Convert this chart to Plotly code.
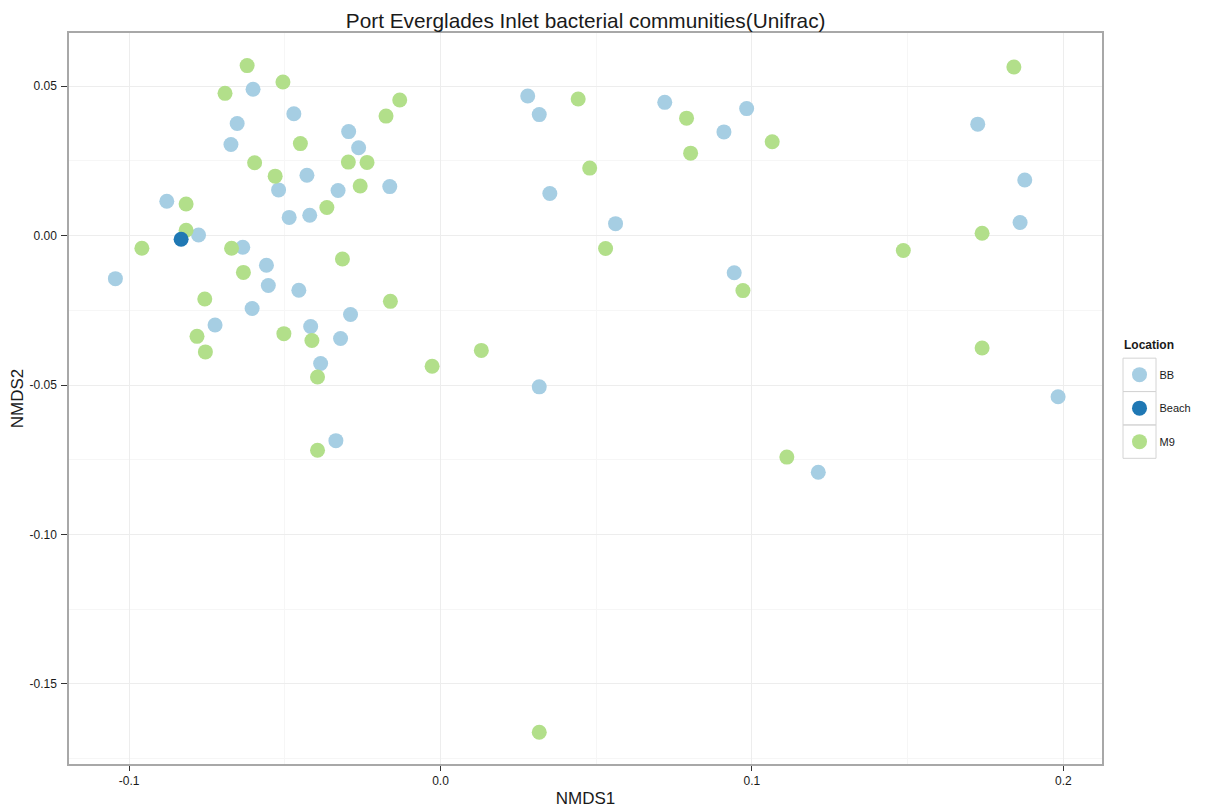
import plotly.graph_objects as go

# ---- data ----
bb_x = [-0.0602, -0.0471, -0.0653, -0.0295, -0.0673, -0.0263, -0.0429, -0.0520, -0.0329, -0.0163,
        -0.0879, -0.0486, -0.0420, -0.0777, -0.0635, -0.0559, -0.1044, -0.0553, -0.0455, -0.0605,
        -0.0289, -0.0724, -0.0417, -0.0321, -0.0385, -0.0336, 0.0280, 0.0317, 0.0720, 0.0983,
        0.0910, 0.0351, 0.0562, 0.0943, 0.0317, 0.1213, 0.1725, 0.1876, 0.1861, 0.1983]
bb_y = [0.0490, 0.0408, 0.0375, 0.0348, 0.0305, 0.0294, 0.0202, 0.0153, 0.0151, 0.0164,
        0.0115, 0.0061, 0.0068, 0.0002, -0.0039, -0.0099, -0.0144, -0.0167, -0.0183, -0.0244,
        -0.0264, -0.0299, -0.0304, -0.0344, -0.0428, -0.0686, 0.0467, 0.0405, 0.0446, 0.0425,
        0.0347, 0.0141, 0.0040, -0.0124, -0.0506, -0.0792, 0.0373, 0.0186, 0.0044, -0.0539]

beach_x = [-0.0833]
beach_y = [-0.0012]

m9_x = [-0.0621, -0.0506, -0.0692, -0.0131, -0.0175, -0.0450, -0.0597, -0.0296, -0.0236, -0.0531,
        -0.0258, -0.0817, -0.0365, -0.0817, -0.0959, -0.0671, -0.0315, -0.0633, -0.0757, -0.0161,
        -0.0782, -0.0503, -0.0413, -0.0755, -0.0395, -0.0027, -0.0395, 0.0442, 0.0790, 0.1065,
        0.0803, 0.0479, 0.0530, 0.0971, 0.0131, 0.1112, 0.1841, 0.1739, 0.1486, 0.1739, 0.0317]
m9_y = [0.0569, 0.0514, 0.0476, 0.0454, 0.0400, 0.0308, 0.0244, 0.0246, 0.0245, 0.0199,
        0.0166, 0.0106, 0.0094, 0.0018, -0.0042, -0.0042, -0.0078, -0.0123, -0.0212, -0.0220,
        -0.0337, -0.0328, -0.0351, -0.0389, -0.0473, -0.0437, -0.0718, 0.0457, 0.0393, 0.0314,
        0.0276, 0.0226, -0.0043, -0.0184, -0.0384, -0.0741, 0.0564, 0.0008, -0.0050, -0.0376, -0.1662]

x_tickvals = [-0.1, 0.0, 0.1, 0.2]
x_ticktext = ["-0.1", "0.0", "0.1", "0.2"]
y_tickvals = [0.05, 0.0, -0.05, -0.10, -0.15]
y_ticktext = ["0.05", "0.00", "-0.05", "-0.10", "-0.15"]

FONT = "Liberation Sans, Arial, Helvetica, sans-serif"
MS = 15
TXT = "#1a1a1a"

fig = go.Figure()
fig.add_trace(go.Scatter(x=bb_x, y=bb_y, mode="markers", name="BB", legendgroup="BB", legendrank=1,
                         marker=dict(color="#A6CEE3", size=MS, line=dict(width=0))))
fig.add_trace(go.Scatter(x=m9_x, y=m9_y, mode="markers", name="M9", legendgroup="M9", legendrank=3,
                         marker=dict(color="#B2DF8A", size=MS, line=dict(width=0))))
fig.add_trace(go.Scatter(x=beach_x, y=beach_y, mode="markers", name="Beach", legendgroup="Beach", legendrank=2,
                         marker=dict(color="#1F78B4", size=MS, line=dict(width=0))))

# page body has an 8px margin; work in page pixels and convert
OFF = 8
W, H = 1199, 801
P_LEFT, P_RIGHT, P_TOP, P_BOTTOM = 69.3, 1102, 32.7, 764  # panel edges in page px
L = P_LEFT - OFF
T = P_TOP - OFF
R = W - (P_RIGHT - OFF)
B = H - (P_BOTTOM - OFF)
pw = W - L - R
ph = H - T - B


def pxx(page_x):
    return (page_x - OFF - L) / pw


def pxy(page_y):
    return (H - B - (page_y - OFF)) / ph


# legend key boxes (ggplot-style)
box_left, box_right = 1123, 1156
box_tops = [358, 391.4, 424.8]
box_h = 33.4
shapes = []
for t in box_tops:
    shapes.append(dict(type="rect", xref="paper", yref="paper",
                       x0=pxx(box_left), x1=pxx(box_right),
                       y0=pxy(t + box_h), y1=pxy(t),
                       line=dict(color="#D4D4D4", width=1), fillcolor="rgba(0,0,0,0)", layer="below"))

annotations = [
    dict(text="<b>Location</b>", xref="paper", yref="paper", x=pxx(1122), y=pxy(345),
         xanchor="left", yanchor="middle", showarrow=False, font=dict(size=12, color=TXT)),
]

fig.update_layout(
    width=W, height=H,
    margin=dict(l=L, r=R, t=T, b=B, autoexpand=False),
    paper_bgcolor="white", plot_bgcolor="white",
    font=dict(family=FONT, color=TXT),
    title=dict(text="Port Everglades Inlet bacterial communities(Unifrac)",
               x=(L + pw / 2) / W, xanchor="center", y=1 - (20.5 - OFF) / H, yanchor="middle",
               font=dict(size=20.8, color=TXT)),
    showlegend=True,
    legend=dict(
        x=pxx(1119.5), xanchor="left",
        y=pxy(360), yanchor="top",
        font=dict(size=11, color=TXT),
        tracegroupgap=14.5,
        bgcolor="rgba(0,0,0,0)",
        itemclick=False,
    ),
    shapes=shapes,
    annotations=annotations,
    xaxis=dict(
        range=[-0.1193, 0.2124], tickvals=x_tickvals, ticktext=x_ticktext,
        showgrid=True, gridcolor="#EDEDED", gridwidth=1,
        minor=dict(dtick=0.05, tick0=0, showgrid=True, gridcolor="#F6F6F6", gridwidth=1, ticks=""),
        zeroline=False, showline=True, linecolor="#A8A8A8", linewidth=1.5, mirror=True,
        ticks="outside", ticklen=5, tickcolor="#333333", tickwidth=1, ticklabelstandoff=0,
        tickfont=dict(size=12, color=TXT), automargin=True,
        title=dict(text="NMDS1", font=dict(size=17, color=TXT), standoff=5),
    ),
    yaxis=dict(
        range=[-0.1768, 0.0678], tickvals=y_tickvals, ticktext=y_ticktext,
        showgrid=True, gridcolor="#EDEDED", gridwidth=1,
        minor=dict(dtick=0.025, tick0=0, showgrid=True, gridcolor="#F6F6F6", gridwidth=1, ticks=""),
        zeroline=False, showline=True, linecolor="#A8A8A8", linewidth=1.5, mirror=True,
        ticks="outside", ticklen=6, tickcolor="#333333", tickwidth=1, ticklabelstandoff=2,
        tickfont=dict(size=12, color=TXT),
        title=dict(text="NMDS2", font=dict(size=17, color=TXT), standoff=9),
    ),
)

fig.write_html("out.html")
